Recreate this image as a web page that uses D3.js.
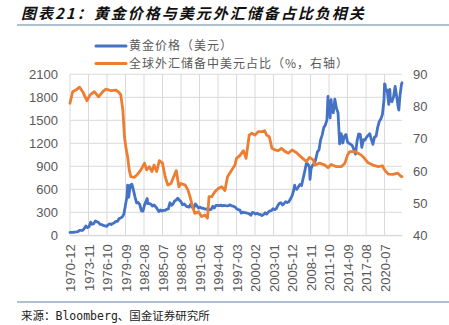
<!DOCTYPE html>
<html><head><meta charset="utf-8">
<script src="https://cdn.jsdelivr.net/npm/d3@7"></script>
<style>
html,body{margin:0;padding:0;background:#fff;}
svg{display:block;}
</style></head>
<body>
<svg id="c" width="449" height="325"></svg>
<script>
const title = "图表21：黄金价格与美元外汇储备占比负相关";
const source = "来源：Bloomberg、国金证券研究所";
const seriesNames = ["黄金价格（美元）", "全球外汇储备中美元占比（%，右轴）"];
const firstMonth = "1970-12", lastMonth = "2023-04";
const xTickLabels = ["1970-12","1973-11","1976-10","1979-09","1982-08","1985-07","1988-06","1991-05","1994-04","1997-03","2000-02","2003-01","2005-12","2008-11","2011-10","2014-09","2017-08","2020-07"];
const leftTicks = [0,300,600,900,1200,1500,1800,2100];
const rightTicks = [40,50,60,70,80,90];

const gold = [
["1970-12",37],["1971-03",39],["1971-06",40],["1971-09",42],["1971-12",44],["1972-03",48],["1972-06",65],["1972-09",65],["1972-12",65],
["1973-03",90],["1973-06",123],["1973-09",100],["1973-12",112],["1974-03",172],["1974-06",143],["1974-09",152],["1974-12",187],
["1975-03",177],["1975-06",166],["1975-09",142],["1975-12",140],["1976-03",129],["1976-06",124],["1976-09",117],["1976-12",135],
["1977-03",149],["1977-06",141],["1977-09",155],["1977-12",165],["1978-03",181],["1978-06",183],["1978-09",218],["1978-12",226],
["1979-03",241],["1979-06",277],["1979-09",397],["1979-12",512],["1980-01",653],["1980-03",494],["1980-06",653],["1980-09",666],["1980-12",590],
["1981-03",499],["1981-06",423],["1981-09",428],["1981-12",400],["1982-03",320],["1982-06",315],["1982-09",397],["1982-12",448],["1983-02",480],
["1983-03",414],["1983-06",413],["1983-09",406],["1983-12",382],["1984-03",395],["1984-06",373],["1984-09",345],["1984-12",309],
["1985-03",330],["1985-06",317],["1985-09",326],["1985-12",327],["1986-03",339],["1986-06",345],["1986-09",424],["1986-12",391],
["1987-03",409],["1987-06",448],["1987-09",460],["1987-12",484],["1988-03",457],["1988-06",437],["1988-09",397],["1988-12",410],
["1989-03",386],["1989-06",373],["1989-09",367],["1989-12",401],["1990-03",368],["1990-06",352],["1990-09",408],["1990-12",386],
["1991-03",356],["1991-06",367],["1991-09",354],["1991-12",353],["1992-03",341],["1992-06",343],["1992-09",349],["1992-12",333],
["1993-03",337],["1993-06",378],["1993-09",355],["1993-12",391],["1994-03",389],["1994-06",386],["1994-09",394],["1994-12",383],
["1995-03",391],["1995-06",387],["1995-09",384],["1995-12",387],["1996-03",397],["1996-06",383],["1996-09",379],["1996-12",369],
["1997-03",349],["1997-06",334],["1997-09",332],["1997-12",290],["1998-03",301],["1998-06",296],["1998-09",294],["1998-12",288],
["1999-03",280],["1999-06",261],["1999-09",299],["1999-12",290],["2000-03",278],["2000-06",288],["2000-09",273],["2000-12",272],
["2001-03",258],["2001-06",270],["2001-09",293],["2001-12",276],["2002-03",302],["2002-06",318],["2002-09",323],["2002-12",348],
["2003-03",334],["2003-06",346],["2003-09",388],["2003-12",417],["2004-03",424],["2004-06",396],["2004-09",416],["2004-12",438],
["2005-03",427],["2005-06",437],["2005-09",473],["2005-12",513],["2006-03",582],["2006-05",653],["2006-06",613],["2006-09",599],["2006-12",632],
["2007-03",662],["2007-06",650],["2007-09",743],["2007-12",834],["2008-03",933],["2008-06",930],["2008-09",884],["2008-10",730],["2008-12",869],
["2009-03",917],["2009-06",934],["2009-09",996],["2009-12",1088],["2010-03",1115],["2010-06",1244],["2010-09",1307],["2010-12",1405],
["2011-03",1439],["2011-06",1505],["2011-08",1813],["2011-09",1620],["2011-11",1746],["2011-12",1531],["2012-02",1770],["2012-03",1662],
["2012-06",1598],["2012-09",1776],["2012-12",1657],["2013-03",1598],["2013-04",1469],["2013-06",1192],["2013-09",1326],["2013-12",1204],
["2014-03",1291],["2014-06",1315],["2014-09",1216],["2014-12",1199],["2015-03",1187],["2015-06",1171],["2015-09",1114],["2015-12",1060],
["2016-03",1232],["2016-06",1321],["2016-09",1316],["2016-12",1146],["2017-03",1247],["2017-06",1242],["2017-09",1280],["2017-12",1303],
["2018-03",1325],["2018-06",1252],["2018-09",1187],["2018-12",1281],["2019-03",1292],["2019-06",1409],["2019-09",1485],["2019-12",1517],
["2020-03",1577],["2020-06",1768],["2020-07",1975],["2020-08",1970],["2020-09",1887],["2020-12",1895],["2021-03",1708],["2021-05",1903],
["2021-06",1763],["2021-09",1743],["2021-12",1806],["2022-03",1942],["2022-06",1807],["2022-09",1661],["2022-10",1634],["2022-12",1812],
["2023-03",1969],["2023-04",1990]
];

const usdShare = [
["1970-12",81.0],["1971-05",84.6],["1971-11",85.1],["1972-06",86.0],["1972-12",84.6],["1973-08",81.8],["1974-02",83.6],["1974-10",84.6],
["1975-06",83.0],["1976-02",84.6],["1976-08",85.4],["1977-06",84.9],["1978-03",85.1],["1978-09",84.3],["1978-12",83.6],["1979-04",78.9],
["1979-07",70.6],["1979-10",67.0],["1980-01",64.4],["1980-04",60.3],["1980-07",58.2],["1981-02",58.0],["1981-08",59.0],["1982-02",60.3],
["1982-09",62.4],["1983-01",60.3],["1983-06",61.3],["1983-11",59.8],["1984-03",61.8],["1984-08",59.8],["1985-01",63.2],["1985-07",62.4],
["1985-12",58.2],["1986-05",55.6],["1986-11",56.1],["1987-03",57.7],["1987-09",60.1],["1988-02",55.1],["1988-06",56.1],["1989-02",55.6],
["1989-07",54.1],["1989-11",52.0],["1990-03",49.4],["1990-08",46.8],["1991-03",47.3],["1991-09",45.8],["1992-03",46.3],["1992-08",45.3],
["1992-11",52.0],["1993-04",52.0],["1993-10",53.5],["1994-05",54.6],["1994-11",55.1],["1995-05",53.9],["1995-10",58.2],["1996-06",60.3],
["1996-12",61.8],["1997-03",63.9],["1997-10",64.9],["1998-04",66.3],["1998-09",63.9],["1998-12",67.5],["1999-03",71.1],["1999-08",71.7],
["2000-02",71.1],["2000-08",72.2],["2001-04",72.2],["2001-08",72.5],["2001-12",71.1],["2002-05",70.6],["2002-10",67.0],["2003-04",66.5],
["2003-10",66.3],["2004-04",67.0],["2004-11",66.0],["2005-05",65.5],["2005-12",66.5],["2006-08",65.7],["2007-06",64.2],["2008-03",62.9],
["2008-09",64.2],["2009-04",63.4],["2009-07",61.8],["2010-04",62.4],["2011-02",61.8],["2011-08",61.0],["2012-02",62.0],["2012-12",61.3],
["2013-09",61.3],["2014-04",62.4],["2014-09",64.9],["2015-01",66.0],["2015-11",66.0],["2016-05",65.5],["2016-11",64.9],["2017-05",63.9],
["2017-12",62.5],["2018-09",61.8],["2019-07",61.3],["2020-03",61.6],["2020-07",60.3],["2021-02",59.0],["2021-11",58.9],["2022-08",59.3],
["2023-03",58.2],["2023-04",58.2]
];

const fmt = d3.utcFormat("%Y-%m");
const parse = d3.utcParse("%Y-%m");
const months = d3.utcMonth.range(parse(firstMonth), d3.utcMonth.offset(parse(lastMonth), 1)).map(fmt);

const svg = d3.select("#c");
const L = 70, R = 402, T = 74.3, B = 235.3;
const x = d3.scalePoint().domain(months).range([L, R]);
const yL = d3.scaleLinear().domain([0, 2100]).range([B, T]);
const yR = d3.scaleLinear().domain([40, 90]).range([B, T]);

const grid = "#d9d9d9", txt = "#595959";
const sans = "'Liberation Sans', Arial, sans-serif";
const cjk = "'Noto Sans CJK SC', sans-serif";

// title
svg.append("text").attr("x", 21).attr("y", 19)
  .attr("font-family", cjk).attr("font-weight", "bold").attr("font-style", "italic")
  .attr("font-size", 15).attr("letter-spacing", 2).attr("fill", "#111").text(title);
svg.append("line").attr("x1", 17).attr("x2", 449).attr("y1", 25).attr("y2", 25)
  .attr("stroke", "#94acc2").attr("stroke-width", 1.3);

// horizontal grid
svg.append("g").selectAll("line").data(leftTicks).join("line")
  .attr("x1", L).attr("x2", R).attr("y1", d => yL(d)).attr("y2", d => yL(d))
  .attr("stroke", grid).attr("stroke-width", 1);
// vertical grid
svg.append("g").selectAll("line").data(xTickLabels).join("line")
  .attr("x1", d => x(d)).attr("x2", d => x(d)).attr("y1", T).attr("y2", B)
  .attr("stroke", grid).attr("stroke-width", 1);

// left axis
const gl = svg.append("g").attr("transform", `translate(${L},0)`)
  .call(d3.axisLeft(yL).tickValues(leftTicks).tickFormat(d3.format("d")).tickSize(0).tickPadding(12));
gl.select(".domain").remove();
gl.selectAll("text").attr("font-family", sans).attr("font-size", 13).attr("fill", txt);

// right axis
const gr = svg.append("g").attr("transform", `translate(${R},0)`)
  .call(d3.axisRight(yR).tickValues(rightTicks).tickFormat(d3.format("d")).tickSize(0).tickPadding(11));
gr.select(".domain").remove();
gr.selectAll("text").attr("font-family", sans).attr("font-size", 13).attr("fill", txt);

// bottom axis
const gb = svg.append("g").attr("transform", `translate(0,${B})`)
  .call(d3.axisBottom(x).tickValues(xTickLabels).tickSize(0));
gb.select(".domain").attr("stroke", grid);
gb.selectAll("text").attr("font-family", sans).attr("font-size", 13).attr("fill", txt)
  .attr("transform", "rotate(-90)").attr("text-anchor", "end")
  .attr("x", -9).attr("y", 0).attr("dy", "0.35em");

// lines
const lineG = d3.line().x(d => x(d[0])).y(d => yL(d[1]));
const lineR = d3.line().x(d => x(d[0])).y(d => yR(d[1]));
svg.append("path").datum(gold).attr("d", lineG).attr("fill", "none")
  .attr("stroke", "#4472C4").attr("stroke-width", 2.8).attr("stroke-linejoin", "round").attr("stroke-linecap", "round");
svg.append("path").datum(usdShare).attr("d", lineR).attr("fill", "none")
  .attr("stroke", "#ED7D31").attr("stroke-width", 2.8).attr("stroke-linejoin", "round").attr("stroke-linecap", "round");

// legend
const colors = ["#4472C4", "#ED7D31"];
const lg = svg.append("g");
seriesNames.forEach((n, i) => {
  const yy = 46 + i * 17.5;
  lg.append("line").attr("x1", 96).attr("x2", 126).attr("y1", yy).attr("y2", yy)
    .attr("stroke", colors[i]).attr("stroke-width", 3).attr("stroke-linecap", "round");
  lg.append("text").attr("x", 129).attr("y", yy).attr("dy", "0.36em")
    .attr("font-family", cjk).attr("font-size", 12).attr("letter-spacing", 1)
    .attr("fill", txt).text(n);
});

// footer
svg.append("line").attr("x1", 17).attr("x2", 449).attr("y1", 302).attr("y2", 302)
  .attr("stroke", "#94acc2").attr("stroke-width", 1.3);
svg.append("text").attr("x", 21).attr("y", 320)
  .attr("font-family", "'DejaVu Sans Mono', 'Noto Sans CJK SC', monospace").attr("font-size", 11.5)
  .attr("fill", "#222").text(source);
</script>
</body></html>
